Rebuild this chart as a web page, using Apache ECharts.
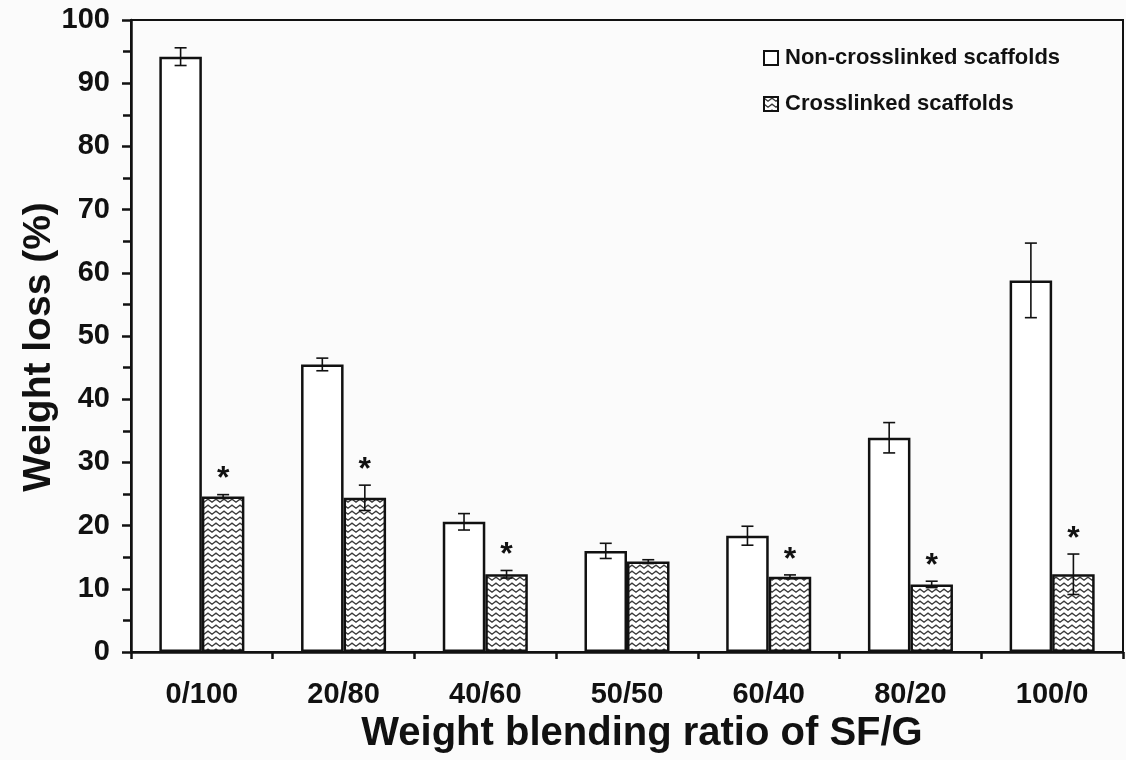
<!DOCTYPE html>
<html>
<head>
<meta charset="utf-8">
<script src="https://cdn.jsdelivr.net/npm/echarts@6/dist/echarts.min.js"></script>
<style>
  html, body { margin: 0; padding: 0; background: #fbfbfb; }
  #chart { width: 1126px; height: 760px; }
</style>
</head>
<body>
<div id="chart"></div>
<script>
// ---- data ----
const categories = ['0/100', '20/80', '40/60', '50/50', '60/40', '80/20', '100/0'];
const nonCrosslinked = [94.2, 45.5, 20.6, 16.0, 18.4, 33.9, 58.8];
const nonCrosslinkedErr = [1.4, 1.0, 1.3, 1.2, 1.5, 2.4, 5.9];
const crosslinked = [24.6, 24.4, 12.3, 14.3, 11.9, 10.7, 12.3];
const crosslinkedErr = [0.3, 2.0, 0.6, 0.3, 0.3, 0.5, 3.2];
const significant = [true, true, true, false, true, true, true];
const seriesNames = ['Non-crosslinked scaffolds', 'Crosslinked scaffolds'];
const yTicks = { min: 0, max: 100, interval: 10 };

// ---- zigzag pattern ----
function makeZigzag() {
  const c = document.createElement('canvas');
  c.width = 8; c.height = 6;
  const g = c.getContext('2d');
  g.fillStyle = '#ffffff';
  g.fillRect(0, 0, 8, 6);
  g.strokeStyle = '#3a3a3a';
  g.lineWidth = 1.4;
  g.beginPath();
  g.moveTo(-2, 4.2); g.lineTo(0, 1.2); g.lineTo(4, 4.2); g.lineTo(8, 1.2); g.lineTo(10, 4.2);
  g.stroke();
  return c;
}
const zig = makeZigzag();

const FONT = 'Arial, "Liberation Sans", sans-serif';
const BAR_FRAC = 0.3;

function errData(vals, errs, side, stars) {
  return vals.map((v, i) => [i, v, errs[i], side, stars ? (stars[i] ? 1 : 0) : 0]);
}

function renderErr(params, api) {
  const cat = api.value(0), val = api.value(1), err = api.value(2), side = api.value(3), star = api.value(4);
  const band = api.size([1, 0])[0];
  const x = api.coord([cat, val])[0] + side * band * BAR_FRAC / 2;
  const yTop = api.coord([cat, val + err])[1];
  const yBot = api.coord([cat, val - err])[1];
  const cap = 6;
  const st = { stroke: '#111', lineWidth: 1.6 };
  const children = [
    { type: 'line', shape: { x1: x, y1: yTop, x2: x, y2: yBot }, style: st },
    { type: 'line', shape: { x1: x - cap, y1: yTop, x2: x + cap, y2: yTop }, style: st },
    { type: 'line', shape: { x1: x - cap, y1: yBot, x2: x + cap, y2: yBot }, style: st }
  ];
  if (star) {
    children.push({
      type: 'text',
      style: { text: '*', x: x, y: yTop + 1, align: 'center', verticalAlign: 'bottom',
               font: 'bold 32px ' + FONT, fill: '#111' }
    });
  }
  return { type: 'group', children: children };
}

const chart = echarts.init(document.getElementById('chart'), null, { renderer: 'canvas' });
chart.setOption({
  backgroundColor: '#fbfbfb',
  animation: false,
  grid: { left: 131, right: 3, top: 20, bottom: 108, show: true, borderColor: '#111', borderWidth: 2, backgroundColor: 'transparent' },
  legend: {
    orient: 'vertical', left: 758, top: 42,
    itemWidth: 14, itemHeight: 14, itemGap: 24,
    icon: 'rect',
    data: seriesNames,
    textStyle: { fontFamily: FONT, fontWeight: 'bold', fontSize: 22, color: '#111', padding: [0, 0, 0, 2] }
  },
  xAxis: {
    type: 'category',
    data: categories,
    boundaryGap: true,
    name: 'Weight blending ratio of SF/G',
    nameLocation: 'middle',
    nameGap: 62,
    nameTextStyle: { fontFamily: FONT, fontWeight: 'bold', fontSize: 40, color: '#111', padding: [0, 0, 0, 30] },
    axisLine: { lineStyle: { color: '#111', width: 2.5 } },
    axisTick: { show: true, length: 7, lineStyle: { color: '#111', width: 2.5 } },
    axisLabel: { fontFamily: FONT, fontWeight: 'bold', fontSize: 29, color: '#111', margin: 28 },
    splitLine: { show: false }
  },
  yAxis: {
    type: 'value',
    min: yTicks.min, max: yTicks.max, interval: yTicks.interval,
    name: 'Weight loss (%)',
    nameLocation: 'middle',
    nameGap: 72,
    nameMoveOverlap: false,
    nameTextStyle: { fontFamily: FONT, fontWeight: 'bold', fontSize: 39, color: '#111', padding: [0, 22, 0, 0] },
    axisLine: { show: true, lineStyle: { color: '#111', width: 2.5 } },
    axisTick: { show: true, length: 9, lineStyle: { color: '#111', width: 2.5 } },
    minorTick: { show: true, splitNumber: 2, length: 8, lineStyle: { color: '#111', width: 2.5 } },
    axisLabel: { fontFamily: FONT, fontWeight: 'bold', fontSize: 29, color: '#111', margin: 21 },
    splitLine: { show: false }
  },
  series: [
    {
      name: seriesNames[0], type: 'bar', data: nonCrosslinked,
      barWidth: (BAR_FRAC * 100) + '%', barGap: '0%',
      itemStyle: { color: '#ffffff', borderColor: '#111', borderWidth: 2.5 }
    },
    {
      name: seriesNames[1], type: 'bar', data: crosslinked,
      barWidth: (BAR_FRAC * 100) + '%', barGap: '0%',
      itemStyle: { color: { image: zig, repeat: 'repeat' }, borderColor: '#111', borderWidth: 2.5 }
    },
    {
      type: 'custom', renderItem: renderErr, z: 10,
      data: errData(nonCrosslinked, nonCrosslinkedErr, -1, null),
      encode: { x: 0, y: 1 }
    },
    {
      type: 'custom', renderItem: renderErr, z: 10,
      data: errData(crosslinked, crosslinkedErr, 1, significant),
      encode: { x: 0, y: 1 }
    }
  ]
});
</script>
</body>
</html>
